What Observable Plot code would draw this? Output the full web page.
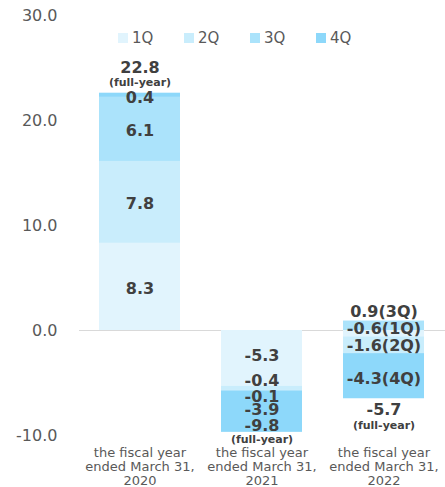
<!DOCTYPE html>
<html>
<head>
<meta charset="utf-8">
<script src="https://cdn.jsdelivr.net/npm/d3@7"></script>
<script src="https://cdn.jsdelivr.net/npm/@observablehq/plot@0.6"></script>
<style>
  html, body { margin: 0; padding: 0; background: #fff; }
  #wrap { position: relative; width: 445px; height: 487px; font-family: "DejaVu Sans", Verdana, sans-serif; }
  #legend { position: absolute; top: 29px; left: 118px; display: flex; font-size: 15px; color: #595959; }
  #legend .item { display: flex; align-items: center; width: 66px; }
  #legend .sw { width: 10px; height: 10px; margin-right: 4px; }
</style>
</head>
<body>
<div id="wrap"><div id="legend"></div></div>
<script>
// ---- data ----
const years = ["FY2020", "FY2021", "FY2022"];
const xLabels = ["the fiscal year\nended March 31,\n2020", "the fiscal year\nended March 31,\n2021", "the fiscal year\nended March 31,\n2022"];
const quarters = ["1Q", "2Q", "3Q", "4Q"];
const q1 = [8.3, -5.3, -0.6];
const q2 = [7.8, -0.4, -1.6];
const q3 = [6.1, -0.1, 0.9];
const q4 = [0.4, -3.9, -4.3];
const totals = [22.8, -9.8, -5.7];
const yTicks = [-10, 0, 10, 20, 30];
const colors = ["#e1f4fd", "#c9edfc", "#abe3fb", "#8dd8fa"];

// annotation text anchors (data units)
const labelText2020 = ["8.3", "7.8", "6.1", "0.4", "22.8", "(full-year)"];
const labelY2020 = [4.0, 12.1, 19.0, 22.2, 25.0, 23.6];
const labelText2021 = ["-5.3", "-0.4", "-0.1", "-3.9", "-9.8", "(full-year)"];
const labelY2021 = [-2.4, -4.8, -6.35, -7.55, -9.05, -10.35];
const labelText2022 = ["0.9(3Q)", "-0.6(1Q)", "-1.6(2Q)", "-4.3(4Q)", "-5.7", "(full-year)"];
const labelY2022 = [1.75, 0.2, -1.5, -4.6, -7.6, -9.05];

const series = [q1, q2, q3, q4];
const rows = [];
years.forEach((y, i) => quarters.forEach((q, j) => rows.push({year: y, quarter: q, value: series[j][i]})));

const labels = [];
[[labelText2020, labelY2020], [labelText2021, labelY2021], [labelText2022, labelY2022]].forEach(([t, ys], i) => {
  t.forEach((s, k) => labels.push({year: years[i], text: s, y: ys[k], small: s === "(full-year)"}));
});

const chart = Plot.plot({
  width: 445,
  height: 487,
  marginTop: 15,
  marginBottom: 52,
  marginLeft: 79,
  marginRight: 0,
  style: {fontFamily: "DejaVu Sans, Verdana, sans-serif", background: "transparent"},
  x: {domain: years, paddingInner: 0.333, paddingOuter: 0.16, label: null},
  y: {domain: [-10, 30], label: null},
  color: {domain: quarters, range: colors},
  marks: [
    Plot.ruleY([0], {stroke: "#d9d9d9", strokeWidth: 1}),
    Plot.barY(rows, {x: "year", y: "value", z: "quarter", fill: "quarter", order: quarters}),
    Plot.axisY({ticks: yTicks, tickSize: 0, tickPadding: 22, tickFormat: d => d.toFixed(1), fontSize: 16, color: "#595959", label: null}),
    Plot.axisX({tickSize: 0, tickPadding: 12, tickFormat: d => xLabels[years.indexOf(d)], fontSize: 13, lineHeight: 1.07, color: "#595959", label: null}),
    Plot.text(labels.filter(d => !d.small), {x: "year", y: "y", text: "text", fontSize: 16, fontWeight: "bold", fill: "#404040"}),
    Plot.text(labels.filter(d => d.small), {x: "year", y: "y", text: "text", fontSize: 11, fontWeight: "bold", fill: "#404040"})
  ]
});
document.getElementById("wrap").prepend(chart);

const legend = document.getElementById("legend");
quarters.forEach((q, i) => {
  const it = document.createElement("div");
  it.className = "item";
  it.innerHTML = `<span class="sw" style="background:${colors[i]}"></span><span>${q}</span>`;
  legend.appendChild(it);
});
</script>
</body>
</html>
